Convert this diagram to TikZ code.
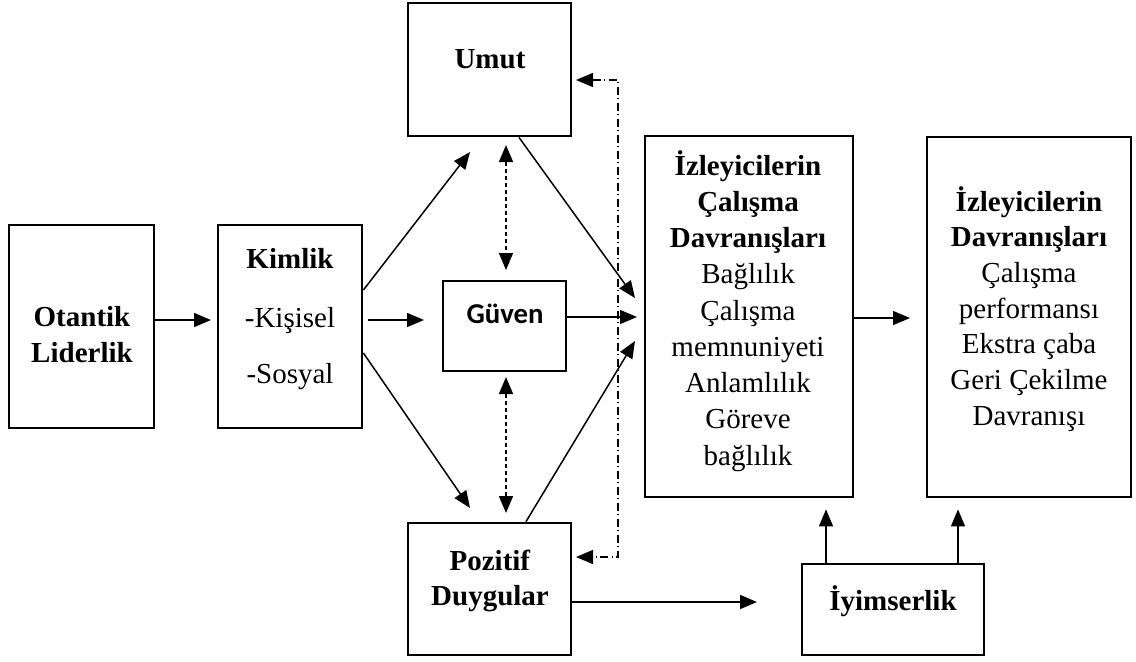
\documentclass[tikz,border=0pt]{standalone}
\usepackage{fontspec}
\usepackage{graphicx}
\setmainfont{Liberation Serif}
\newfontfamily\calibri{Carlito}
\usetikzlibrary{arrows.meta,fit,calc}

\begin{document}
\begin{tikzpicture}[x=0.5pt,y=-0.5pt,
  box/.style={draw, line width=1.4pt, inner sep=0pt},
  txt/.style={inner sep=0pt, anchor=base, font=\fontsize{14.5}{17}\selectfont},
  arr/.style={line width=0.75pt, -{Triangle[length=8.5pt,width=7pt]}},
  darr/.style={line width=0.75pt, dash pattern=on 2.2pt off 1.3pt,
    {Triangle[length=8.5pt,width=7pt]}-{Triangle[length=8.5pt,width=7pt]}},
  ddarr/.style={line width=0.7pt, dash pattern=on 4pt off 1.6pt on 0.8pt off 1.6pt,
    {Triangle[length=8.5pt,width=7pt]}-{Triangle[length=8.5pt,width=7pt]}}
]
\useasboundingbox (0,0) rectangle (1136,661);

% boxes
\node[box, fit={(9,225) (154,428)}]   (ol)   {};
\node[box, fit={(218,225) (362,428)}] (kim)  {};
\node[box, fit={(408,3) (571,136)}]   (umut) {};
\node[box, fit={(443,281) (566,371)}] (guv)  {};
\node[box, fit={(408,523) (571,655)}] (poz)  {};
\node[box, fit={(645,136) (853,497)}] (izc)  {};
\node[box, fit={(927,137) (1131,497)}] (izd) {};
\node[box, fit={(802,564) (984,655)}] (iyi)  {};

% texts
\node[txt] (ol1) at (82,326) {\textbf{Otantik}};
\node[txt] (ol2) at (82,362) {\textbf{Liderlik}};
\node[txt] (kim1) at (290,268) {\textbf{Kimlik}};
\node[txt] (kim2) at (290,327) {-Kişisel};
\node[txt] (kim3) at (290,383) {-Sosyal};
\node[txt] (umut1) at (490,68) {\textbf{Umut}};
\node[txt] (guv1) at (505,323) {\resizebox{38.5pt}{!}{\calibri\bfseries Güven}};
\node[txt] (poz1) at (490,570) {\textbf{Pozitif}};
\node[txt] (poz2) at (490,605) {\textbf{Duygular}};
\foreach \t [count=\i from 0] in {\textbf{İzleyicilerin},\textbf{Çalışma},\textbf{Davranışları},
    Bağlılık,Çalışma,memnuniyeti,Anlamlılık,Göreve,bağlılık}
  \node[txt] (izc-\i) at (748,{175+\i*36.25}) {\t};
\foreach \t [count=\i from 0] in {\textbf{İzleyicilerin},\textbf{Davranışları},Çalışma,
    performansı,Ekstra çaba,Geri Çekilme,Davranışı}
  \node[txt] (izd-\i) at (1029,{211+\i*35.7}) {\t};
\node[txt] (iyi1) at (893,610) {\textbf{İyimserlik}};

% arrow end points
\coordinate (kimin)  at (211,320);
\coordinate (guvin)  at (424,320);
\coordinate (umutin) at (470,152);
\coordinate (pozin)  at (470,508);
\coordinate (izcA)   at (635,298);
\coordinate (izcB)   at (637,317);
\coordinate (izcC)   at (635,341);
\coordinate (izdin)  at (910,318);
\coordinate (iyiin)  at (757,602);
\coordinate (umutS)  at (506,145);
\coordinate (guvN)   at (506,270);
\coordinate (guvS)   at (506,377);
\coordinate (pozN)   at (506,513);
\coordinate (umutE)  at (576,80);
\coordinate (pozE)   at (576,557);
\coordinate (dcT)    at (618,80);
\coordinate (dcB)    at (618,557);

% connectors
\draw[arr] ($(ol.east)+(0,-6.5)$) -- (kimin);
\draw[arr] ($(kim.east)+(5,-6.5)$) -- (guvin);
\draw[arr] ($(kim.east)+(0,-36.5)$) -- (umutin);
\draw[arr] ($(kim.east)+(0,26.5)$) -- (pozin);
\draw[arr] ($(umut.south)+(29.5,0)$) -- (izcA);
\draw[arr] ($(guv.east)+(0,-9)$) -- (izcB);
\draw[arr] ($(poz.north)+(36.5,0)$) -- (izcC);
\draw[arr] ($(izc.east)+(0,1.5)$) -- (izdin);
\draw[arr] ($(poz.east)+(0,13)$) -- (iyiin);
\draw[arr] ($(iyi.north)+(-67,0)$) -- ($(izc.south)+(77,11)$);
\draw[arr] ($(iyi.north)+(65,0)$) -- ($(izd.south)+(-71,11)$);
\draw[darr] (umutS) -- (guvN);
\draw[darr] (guvS) -- (pozN);
\draw[ddarr] (umutE) -- (dcT) -- (dcB) -- (pozE);
\end{tikzpicture}
\end{document}
